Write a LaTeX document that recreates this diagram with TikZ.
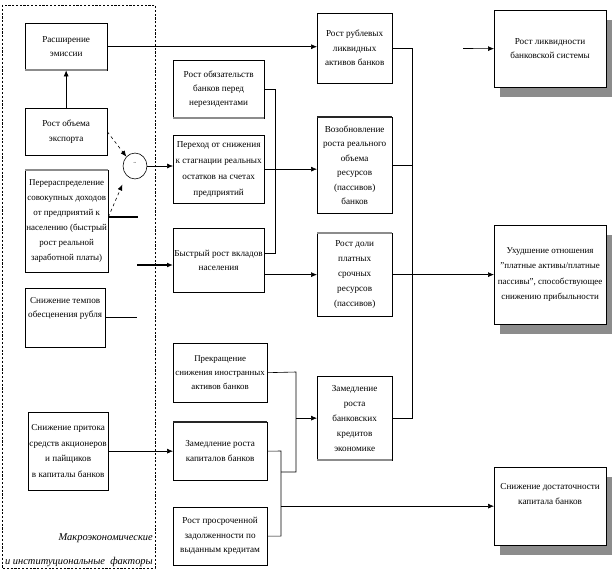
\documentclass[tikz,border=0pt]{standalone}
\usepackage{fontspec}
\setmainfont{Liberation Serif}
\usetikzlibrary{arrows.meta,shadows,shapes.geometric}
\begin{document}
\begin{tikzpicture}[x=1bp,y=-1bp,
  box/.style={draw, fill=white, align=center, inner sep=1pt, line width=0.6pt,
    font=\fontsize{9.2}{14.5}\selectfont, anchor=north west},
  bigbox/.style={box, drop shadow={shadow xshift=6pt, shadow yshift=-10pt, fill=black!45, opacity=1}},
  conn/.style={line width=0.6pt},
  arr/.style={line width=0.6pt, -{Latex[length=6pt,width=5pt]}},
  edgegray/.style={line width=2pt, black!45},
  edgedark/.style={line width=2pt, black!85},
  lab/.style={font=\fontsize{10.5}{12}\selectfont\itshape, anchor=east, inner sep=0pt}
]
\useasboundingbox (0,0) rectangle (612,574);

% dashed frame of macro factors
\draw[line width=0.6pt, dash pattern=on 2.2pt off 1.6pt] (2,5) rectangle (155,568);
\node[lab] (lab1) at (153,538) {Макроэкономические};
\node[lab] (lab2) at (153,562) {и институциональные\ \ факторы};

% left column
\node[box, minimum width=82, minimum height=47] (A) at (25,23) {Расширение\\эмиссии};
\node[box, minimum width=82, minimum height=47] (B) at (25,108) {Рост объема\\экспорта};
\node[box, minimum width=82, minimum height=102, font=\fontsize{9}{15}\selectfont] (C) at (25,170)
  {Перераспределение\\совокупных доходов\\от предприятий к\\населению (быстрый\\рост реальной\\заработной платы)};
\node[box, minimum width=80, minimum height=59] (D) at (25,288) {Снижение темпов\\обесценения рубля\\[6pt]};
\node[box, minimum width=80, minimum height=78, font=\fontsize{9.2}{15.5}\selectfont] (E) at (28,412)
  {Снижение притока\\средств акционеров\\и пайщиков\\в капиталы банков};

\node[draw, ellipse, line width=0.6pt, minimum width=24, minimum height=26, inner sep=0pt,
  font=\fontsize{5}{5}\selectfont] (circ) at (135,166) {\raisebox{5pt}{\textasciitilde}};

% middle column
\node[box, minimum width=91, minimum height=58, font=\fontsize{9.2}{14}\selectfont] (F) at (173,60)
  {Рост обязательств\\банков перед\\нерезидентами};
\node[box, minimum width=91, minimum height=68, font=\fontsize{9.2}{16}\selectfont] (G) at (173,135)
  {Переход от снижения\\к стагнации реальных\\остатков на счетах\\предприятий};
\node[box, minimum width=91, minimum height=64] (H) at (173,228) {Быстрый рост вкладов\\населения};
\node[box, minimum width=94, minimum height=59, font=\fontsize{8.9}{14.5}\selectfont] (I) at (173,343)
  {Прекращение\\снижения иностранных\\активов банков};
\node[box, minimum width=94, minimum height=58] (J) at (173,422) {Замедление роста\\капиталов банков};
\node[box, minimum width=94, minimum height=58] (K) at (173,507) {Рост просроченной\\задолженности по\\выданным кредитам};

% third column
\node[box, minimum width=75, minimum height=70] (L) at (317,13) {Рост рублевых\\ликвидных\\активов банков};
\node[box, minimum width=75, minimum height=96] (M) at (317,117) {Возобновление\\роста реального\\объема\\ресурсов\\(пассивов)\\банков};
\node[box, minimum width=75, minimum height=83, font=\fontsize{9.2}{15}\selectfont] (N) at (317,233)
  {Рост доли\\платных\\срочных\\ресурсов\\(пассивов)};
\node[box, minimum width=75, minimum height=84, font=\fontsize{9.2}{15}\selectfont] (O) at (317,376)
  {Замедление\\роста\\банковских\\кредитов\\экономике};

% right column
\node[bigbox, minimum width=112, minimum height=77, font=\fontsize{9.2}{13.5}\selectfont] (P) at (494,10)
  {Рост ликвидности\\банковской системы};
\node[bigbox, minimum width=112, minimum height=99, font=\fontsize{9}{15.5}\selectfont] (Q) at (494,225)
  {Ухудшение отношения\\"платные активы/платные\\пассивы", способствующее\\снижению прибыльности};
\node[bigbox, minimum width=112, minimum height=78, font=\fontsize{9.2}{15}\selectfont] (R) at (494,467)
  {Снижение достаточности\\капитала банков\\[10pt]};

% shaded edges
\draw[edgegray] (A.south west) -- (A.south east);
\draw[edgegray] (F.south west) -- (F.south east);
\draw[edgegray] (C.north west) -- (C.north east);
\draw[edgedark] (M.north west) -- (M.north east);
\draw[edgegray] (N.north west) -- (N.north east);
\draw[edgedark] (J.north west) -- (J.north east);
\draw[edgegray] (O.south west) -- (O.south east);

% connectors: left part
\draw[arr] (A.east) -- (A.east -| L.west);
\draw[arr] (B.north) -- (A.south);
\draw[arr, dashed] (B.east) -- (circ.north west);
\draw[arr, dashed, shorten >=10pt] ([yshift=4pt]C.east) -- (circ.south west);
\draw[line width=1.6pt] ([yshift=4pt]C.east) -- ++(30,0) coordinate (c1);
\coordinate (h1) at (137,265);
\draw[line width=1.6pt, -{Latex[length=6pt,width=5pt]}] (h1) -- (h1 -| H.west);
\draw[conn] (D.east) -- ++(32,0) coordinate (d1);
\draw[arr] (E.east) -- (E.east -| J.west);
\draw[arr] (circ.east) -- (circ.east -| G.west);

% middle part
\draw[arr] (G.east) -- (G.east -| M.west);
\draw[conn] (F.east) -- ++(11,0) |- ([yshift=7pt]H.east);
\draw[arr] (N.west -| H.east) -- (N.west);
\coordinate (i1) at (296,372);
\draw[conn] (I.east) -- (i1) -- (296,472) -- (281,472);
\draw[arr] (O.west -| i1) -- (O.west);
\coordinate (j1) at (281,451);
\draw[conn] (J.east) -- (j1) -- (j1 |- K.east) -- (K.east);
\draw[arr] (j1 |- R.west) -- (R.west);

% bus to the right
\coordinate (b1) at (412,48);
\draw[conn] (L.east) -- (L.east -| b1) -- (b1 |- O.east) -- (O.east);
\draw[conn] (M.east) -- (M.east -| b1);
\draw[conn] (N.east) -- (N.east -| b1);
\draw[arr] (Q.west -| b1) -- (Q.west);
\coordinate (p0) at (463,48.5);
\draw[arr] (p0) -- (P.west);
\end{tikzpicture}
\end{document}
